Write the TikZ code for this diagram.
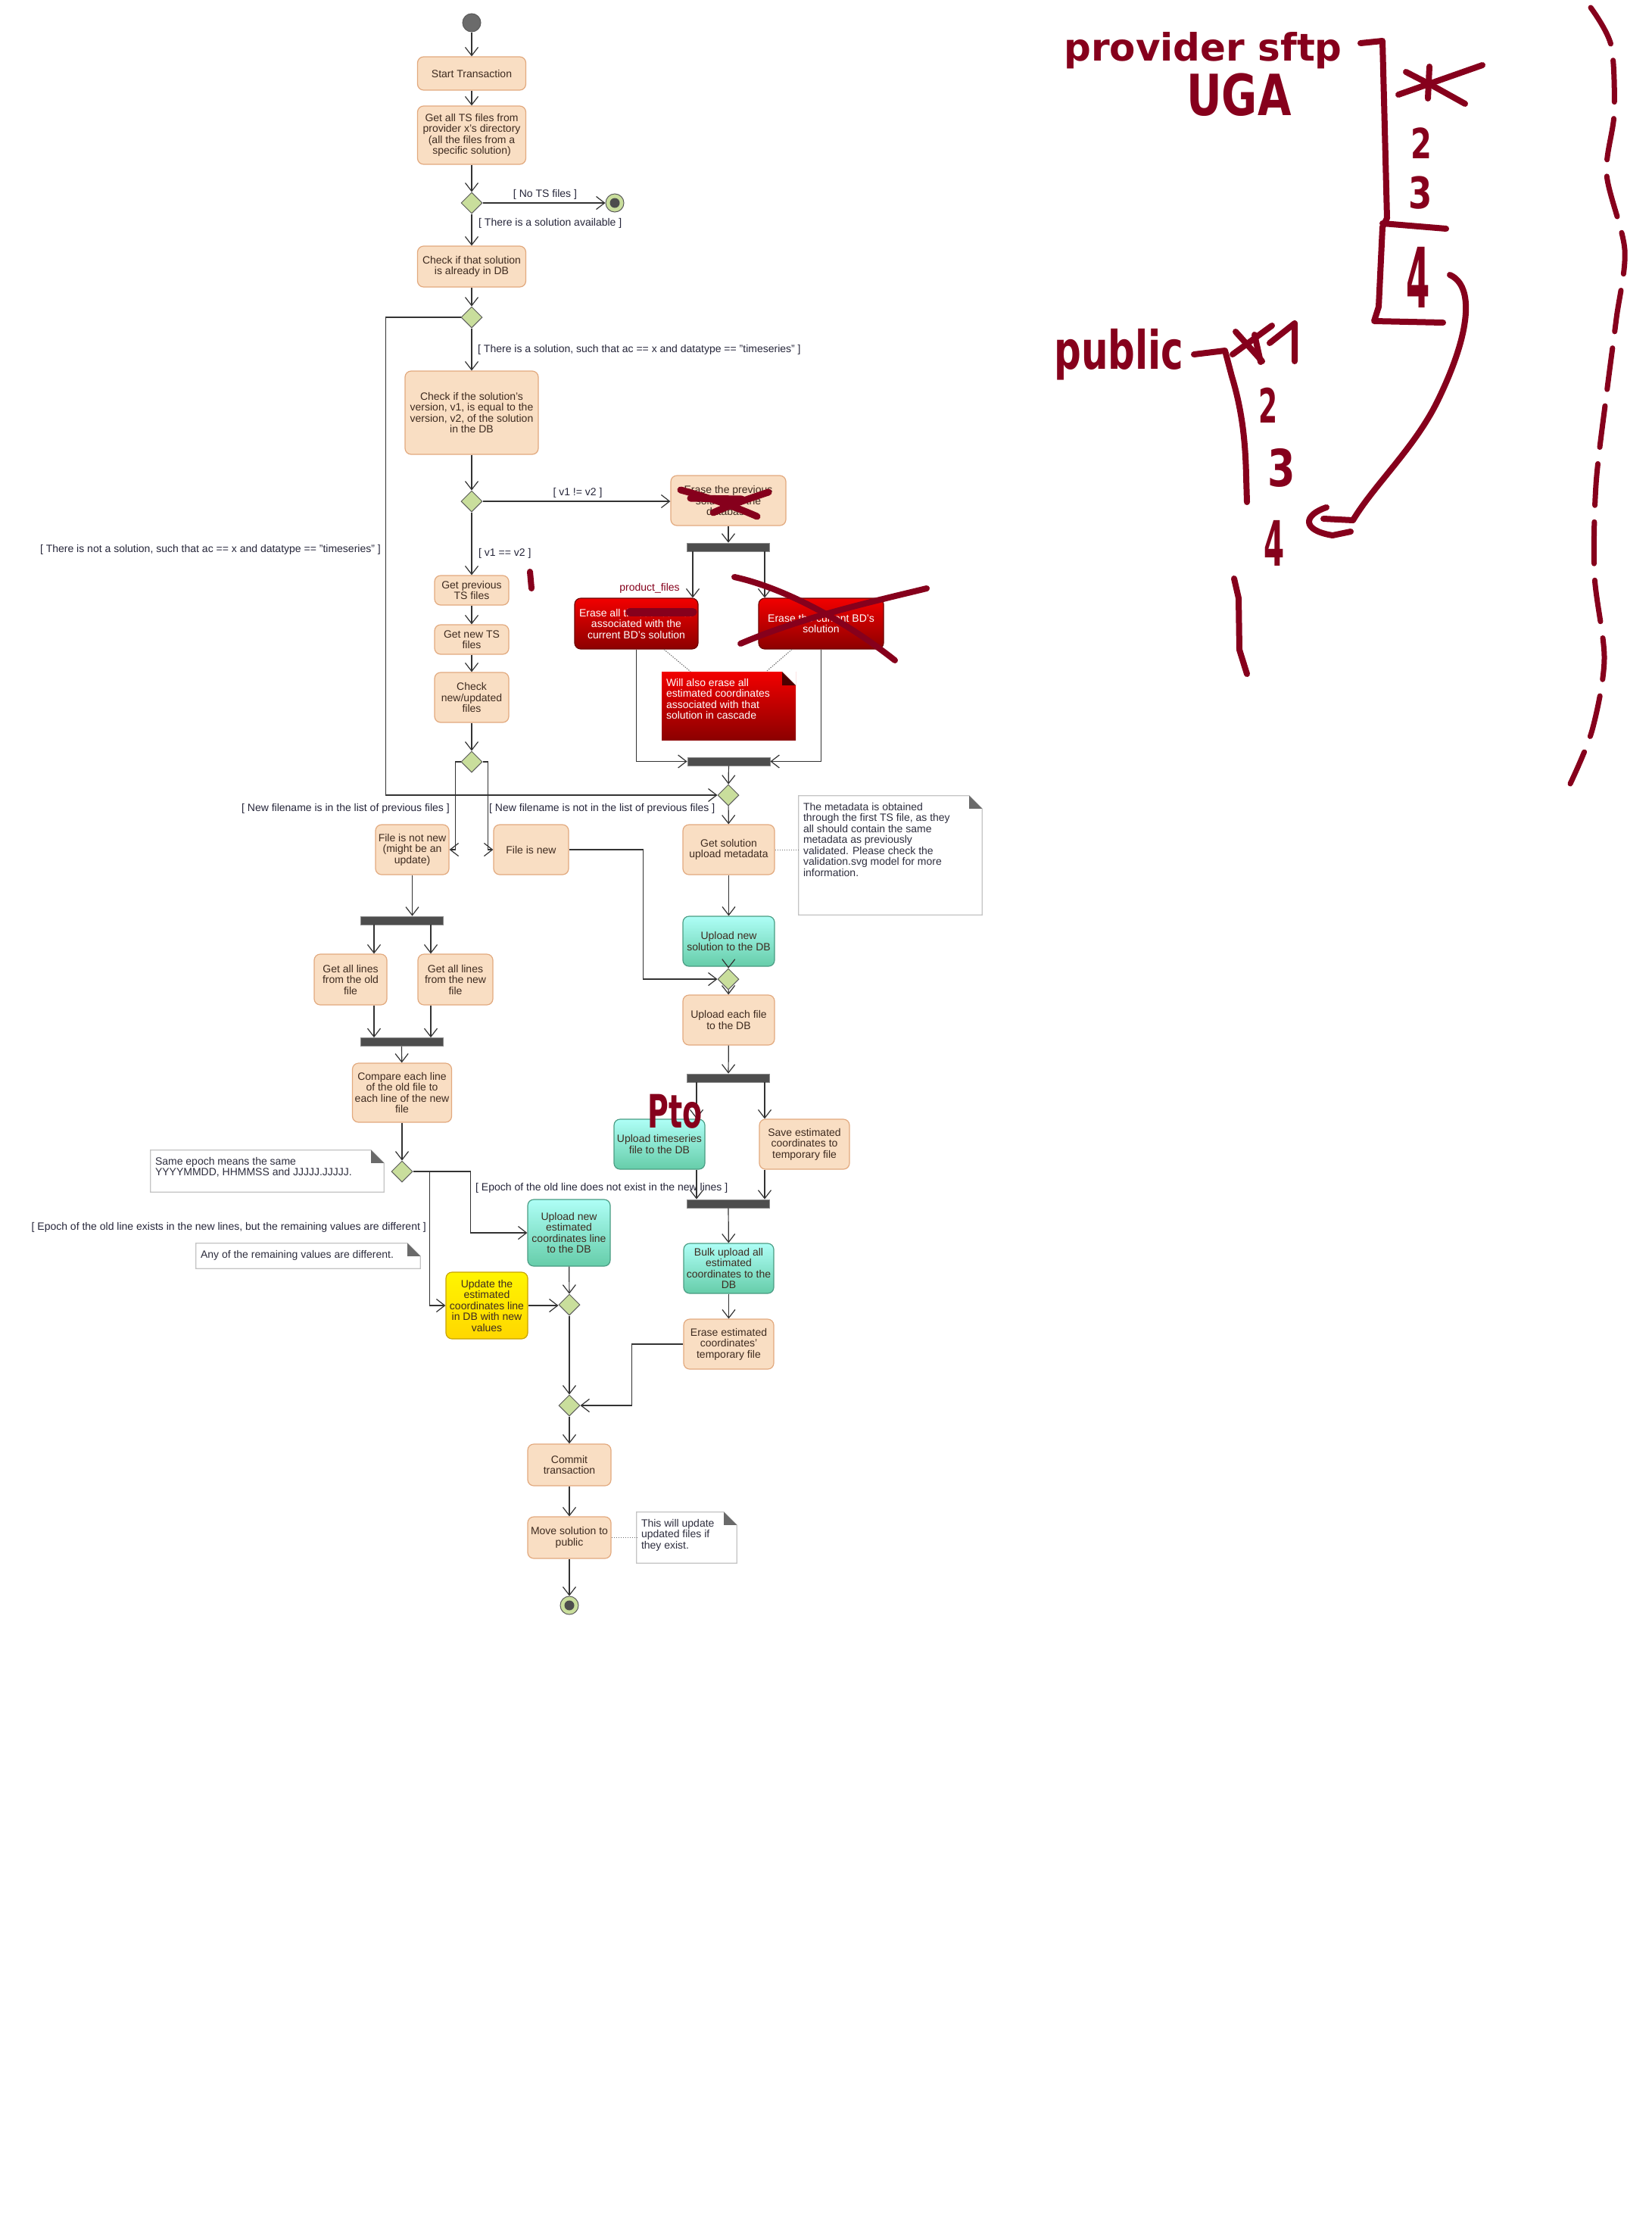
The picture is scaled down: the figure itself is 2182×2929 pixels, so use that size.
\documentclass[tikz,border=0pt]{standalone}
\usepackage{fontspec}
\setmainfont{Liberation Sans}
\newfontfamily\handfont{DejaVu Sans}
\usepackage{graphicx}
\usepackage{tikz}
\usetikzlibrary{positioning,shapes.geometric,arrows.meta,calc}

\definecolor{actfill}{HTML}{F9DEC3}
\definecolor{actdraw}{HTML}{E2A97E}
\definecolor{acttext}{HTML}{3E2B20}
\definecolor{tealtop}{HTML}{AEFEF6}
\definecolor{tealbot}{HTML}{66CDA9}
\definecolor{tealdraw}{HTML}{4A9D84}
\definecolor{yeltop}{HTML}{FFF500}
\definecolor{yelbot}{HTML}{FFD700}
\definecolor{yeldraw}{HTML}{C9A400}
\definecolor{redtop}{HTML}{F20000}
\definecolor{redbot}{HTML}{8C0000}
\definecolor{reddraw}{HTML}{6E0000}
\definecolor{redfold}{HTML}{4A0000}
\definecolor{decfill}{HTML}{C9DE9C}
\definecolor{decdraw}{HTML}{5C5C5C}
\definecolor{barfill}{HTML}{4D4D4D}
\definecolor{bardraw}{HTML}{8A8A8A}
\definecolor{startfill}{HTML}{6B6B6B}
\definecolor{linecol}{HTML}{333333}
\definecolor{linkcol}{HTML}{6E6E6E}
\definecolor{guardcol}{HTML}{26263A}
\definecolor{notedraw}{HTML}{C4C4C4}
\definecolor{notefold}{HTML}{6A6A6A}
\definecolor{notetext}{HTML}{2E2E3E}
\definecolor{ink}{HTML}{86001C}

\newcommand{\notetxt}[3]{\parbox[c][#2][t]{#1}{\raggedright\rule{0pt}{19pt}#3}}

\tikzset{
  act/.style={rectangle, rounded corners=8pt, draw=actdraw, fill=actfill, line width=1.2pt,
    align=center, text=acttext, inner sep=0.5pt, font=\fontsize{14}{14.5}\selectfont},
  tealact/.style={act, draw=tealdraw, top color=tealtop, bottom color=tealbot},
  yelact/.style={act, draw=yeldraw, top color=yeltop, bottom color=yelbot},
  redact/.style={act, draw=reddraw, top color=redtop, bottom color=redbot, text=white},
  decision/.style={diamond, draw=decdraw, fill=decfill, line width=1pt,
    minimum width=28pt, minimum height=28pt, inner sep=0pt},
  bar/.style={rectangle, draw=bardraw, fill=barfill, line width=0.8pt,
    minimum width=109pt, minimum height=11pt, inner sep=0pt},
  startdot/.style={circle, draw=decdraw, fill=startfill, line width=1pt, minimum size=24pt, inner sep=0pt},
  enddot/.style={circle, draw=decdraw, fill=decfill, line width=1pt, minimum size=24pt, inner sep=0pt,
    path picture={\fill[barfill] (path picture bounding box.center) circle (6.5pt);}},
  guard/.style={text=guardcol, inner sep=0pt, font=\fontsize{14}{14.5}\selectfont},
  note/.style={rectangle, inner xsep=6pt, inner ysep=0pt, text=notetext, font=\fontsize{14}{14.5}\selectfont},
  rednote/.style={note, text=white, fill=redbot, path picture={
      \shade[top color=redtop, bottom color=redbot] (path picture bounding box.south west) rectangle (path picture bounding box.north east);
      \fill[white] ([xshift=-18pt]path picture bounding box.north east) -- (path picture bounding box.north east)
        -- ([yshift=-18pt]path picture bounding box.north east) -- cycle;
      \fill[redfold] ([xshift=-18pt]path picture bounding box.north east) -- ([yshift=-18pt]path picture bounding box.north east)
        -- ([xshift=-18pt,yshift=-18pt]path picture bounding box.north east) -- cycle;}},
  flow/.style={draw=linecol, line width=1.2pt, -{Straight Barb[length=11pt, width=17pt]}},
  link/.style={draw=linkcol, line width=1pt, dash pattern=on 1.5pt off 1.5pt},
  hand/.style={draw=ink, line width=8pt, line cap=round, line join=round},
  handtxt/.style={text=ink, inner sep=0pt, font=\handfont\bfseries\fontsize{50}{50}\selectfont}
}

\begin{document}
\begin{tikzpicture}[x=1pt, y=-1pt]
  \fill[white] (0,0) rectangle (2182,2929);
  \useasboundingbox (0,0) rectangle (2182,2929);

  % Main column
  \node[startdot] (start) at (623,30) {};
  \node[act, minimum width=143pt, minimum height=44pt] (begin) at (623,97) {Start Transaction};
  \node[act, minimum width=143pt, minimum height=77pt] (getts) at (623,178.5) {Get all TS files from\\provider x's directory\\(all the files from a\\specific solution)};
  \node[decision] (d1) at (623,268) {};
  \node[enddot] (stop1) at (812,268) {};
  \node[act, minimum width=143pt, minimum height=54pt] (indb) at (623,352) {Check if that solution\\is already in DB};
  \node[decision] (d2) at (623,419) {};
  \node[act, minimum width=176pt, minimum height=110pt] (version) at (623,545) {Check if the solution's\\version, v1, is equal to the\\version, v2, of the solution\\in the DB};
  \node[decision] (d3) at (623,662) {};
  \node[act, minimum width=98pt, minimum height=39pt] (prevts) at (623,779.5) {Get previous\\TS files};
  \node[act, minimum width=98pt, minimum height=39pt] (newts) at (623,844.5) {Get new TS\\files};
  \node[act, minimum width=98pt, minimum height=66pt] (checknew) at (623,921) {Check\\new/updated\\files};
  \node[decision] (d4) at (623,1006) {};

  % Erase branch
  \node[act, minimum width=152pt, minimum height=66pt] (eraseprev) at (962,661) {Erase the previous\\solution in the\\database};
  \node[bar] (fork1) at (962,722.5) {};
  \node[redact, minimum width=163pt, minimum height=67pt] (erasets) at (840.5,823.5) {Erase all timeseries files\\associated with the\\current BD's solution};
  \node[redact, minimum width=165pt, minimum height=67pt] (erasesol) at (1084.5,823.5) {Erase the current BD's\\solution};
  \node[text=ink, inner sep=0pt, font=\fontsize{14}{14.5}\selectfont] (prodfiles) at (858,777) {product\_files};
  \node[rednote] (cascade) at (962.5,932) {\notetxt{165pt}{90pt}{Will also erase all\\estimated coordinates\\associated with that\\solution in cascade}};
  \node[bar] (join2) at (962.5,1005.5) {};
  \node[decision] (d5) at (962,1050) {};

  % Old file / new file
  \node[act, minimum width=97pt, minimum height=66pt] (oldfile) at (544.5,1122) {File is not new\\(might be an\\update)};
  \node[act, minimum width=99pt, minimum height=66pt] (newfile) at (701.5,1122) {File is new};
  \node[bar] (fork3) at (530.5,1215.5) {};
  \node[act, minimum width=96pt, minimum height=67pt] (oldlines) at (463,1293.5) {Get all lines\\from the old\\file};
  \node[act, minimum width=99pt, minimum height=67pt] (newlines) at (601.5,1293.5) {Get all lines\\from the new\\file};
  \node[bar] (join4) at (530.5,1376) {};
  \node[act, minimum width=131pt, minimum height=78pt] (compare) at (531,1443) {Compare each line\\of the old file to\\each line of the new\\file};
  \node[decision] (d7) at (531,1547) {};
  \node[note] (epoch) at (353,1546.5) {\notetxt{296pt}{55pt}{Same epoch means the same\\YYYYMMDD, HHMMSS and JJJJJ.JJJJJ.}};
  \node[note] (remain) at (407,1658.5) {\notetxt{284pt}{33pt}{Any of the remaining values are different.}};
  \node[tealact, minimum width=109pt, minimum height=88pt] (upest) at (751.5,1628) {Upload new\\estimated\\coordinates line\\to the DB};
  \node[yelact, minimum width=108pt, minimum height=88pt] (updest) at (643,1724) {Update the\\estimated\\coordinates line\\in DB with new\\values};
  \node[decision] (d8) at (752,1723) {};

  % Upload column
  \node[act, minimum width=121pt, minimum height=66pt] (meta) at (962.5,1122) {Get solution\\upload metadata};
  \node[note] (metanote) at (1176,1129.5) {\notetxt{230pt}{157pt}{The metadata is obtained\\through the first TS file, as they\\all should contain the same\\metadata as previously\\validated. Please check the\\validation.svg model for more\\information.}};
  \node[tealact, minimum width=121pt, minimum height=66pt] (upsol) at (962.5,1243) {Upload new\\solution to the DB};
  \node[decision] (d6) at (962,1293) {};
  \node[act, minimum width=121pt, minimum height=66pt] (upeach) at (962.5,1347) {Upload each file\\to the DB};
  \node[bar] (fork5) at (962,1423.5) {};
  \node[tealact, minimum width=120pt, minimum height=66pt] (upts) at (871,1511) {Upload timeseries\\file to the DB};
  \node[act, minimum width=119pt, minimum height=66pt] (saveest) at (1062.5,1511) {Save estimated\\coordinates to\\temporary file};
  \node[bar] (join6) at (962,1589.5) {};
  \node[tealact, minimum width=119pt, minimum height=66pt] (bulk) at (962.5,1675) {Bulk upload all\\estimated\\coordinates to the\\DB};
  \node[act, minimum width=119pt, minimum height=66pt] (eraseest) at (962.5,1775) {Erase estimated\\coordinates'\\temporary file};

  % End
  \node[decision] (d9) at (752,1856) {};
  \node[act, minimum width=110pt, minimum height=55pt] (commit) at (752,1934.5) {Commit\\transaction};
  \node[act, minimum width=110pt, minimum height=55pt] (move) at (752,2030.5) {Move solution to\\public};
  \node[note] (movenote) at (907,2030.5) {\notetxt{120pt}{67pt}{This will update\\updated files if\\they exist.}};
  \node[enddot] (stop2) at (752,2120) {};

  % Note frames
  \foreach \n in {epoch, remain, metanote, movenote} {
    \draw[notedraw, line width=1.2pt] (\n.north west) -- ([xshift=-17pt]\n.north east)
      -- ([yshift=-17pt]\n.north east) -- (\n.south east) -- (\n.south west) -- cycle;
    \fill[notefold] ([xshift=-17pt]\n.north east) -- ([yshift=-17pt]\n.north east)
      -- ([xshift=-17pt,yshift=-17pt]\n.north east) -- cycle;
  }

  % Guards
  \node[guard] (gno) at (720,257) {[ No TS files ]};
  \node[guard, anchor=west] (gsol) at (632,295) {[ There is a solution available ]};
  \node[guard, anchor=west] (gts) at (631,462) {[ There is a solution, such that ac == x and datatype == "timeseries" ]};
  \node[guard] (gneq) at (763,651) {[ v1 != v2 ]};
  \node[guard, anchor=east] (gnot) at (503,726) {[ There is not a solution, such that ac == x and datatype == "timeseries" ]};
  \node[guard, anchor=west] (geq) at (632,731) {[ v1 == v2 ]};
  \node[guard, anchor=east] (gin) at (594,1068) {[ New filename is in the list of previous files ]};
  \node[guard, anchor=west] (gout) at (646,1068) {[ New filename is not in the list of previous files ]};
  \node[guard, anchor=west] (gnoep) at (628,1569) {[ Epoch of the old line does not exist in the new lines ]};
  \node[guard, anchor=east] (gdiff) at (563,1621) {[ Epoch of the old line exists in the new lines, but the remaining values are different ]};

  % Flow, main column
  \draw[flow] (start) -- (begin);
  \draw[flow] (begin) -- (getts);
  \draw[flow] (getts) -- (d1);
  \draw[flow] (d1) -- (stop1);
  \draw[flow] (d1) -- (indb);
  \draw[flow] (indb) -- (d2);
  \draw[flow] (d2) -- (version);
  \draw[flow] (d2.west) -- ++(-99,0) |- (d5.west);
  \draw[flow] (version) -- (d3);
  \draw[flow] (d3.east) -- (d3.east -| eraseprev.west);
  \draw[flow] (d3) -- (prevts);
  \draw[flow] (prevts) -- (newts);
  \draw[flow] (newts) -- (checknew);
  \draw[flow] (checknew) -- (d4);

  % Flow, erase branch
  \draw[flow] (eraseprev) -- (fork1);
  \draw[flow] ([xshift=-47pt]fork1.south) -- ([xshift=-47pt]fork1.south |- erasets.north);
  \draw[flow] ([xshift=48pt]fork1.south) -- ([xshift=48pt]fork1.south |- erasesol.north);
  \draw[flow] (erasets.south) |- (join2.west);
  \draw[flow] (erasesol.south) |- (join2.east);
  \draw[flow] (join2) -- (d5);
  \draw[link] ([xshift=36.5pt]erasets.south) -- ([xshift=-50.5pt]cascade.north);
  \draw[link] ([xshift=-38.5pt]erasesol.south) -- ([xshift=49.5pt]cascade.north);

  % Flow, file branches
  \draw[flow] (d4.west) -- ++(-7,0) |- (oldfile.east);
  \draw[flow] (d4.east) -- ++(7,0) |- (newfile.west);
  \draw[flow] (newfile.east) -- ++(98,0) |- (d6.west);
  \draw[flow] (oldfile.south) -- (oldfile.south |- fork3.north);
  \draw[flow] ([xshift=-36.5pt]fork3.south) -- ([xshift=-36.5pt]fork3.south |- oldlines.north);
  \draw[flow] ([xshift=38.5pt]fork3.south) -- ([xshift=38.5pt]fork3.south |- newlines.north);
  \draw[flow] ([xshift=-36.5pt]fork3.south |- oldlines.south) -- ([xshift=-36.5pt]join4.north);
  \draw[flow] ([xshift=38.5pt]fork3.south |- newlines.south) -- ([xshift=38.5pt]join4.north);
  \draw[flow] (join4) -- (compare);
  \draw[flow] (compare) -- (d7);
  \draw[flow] (d7.east) -- ++(76,0) |- (upest.west);
  \draw[flow] (d7.east) -- ++(22,0) |- (updest.west);
  \draw[flow] (upest) -- (d8);
  \draw[flow] (updest.east) -- (updest.east -| d8.west);
  \draw[flow] (d8) -- (d9);

  % Flow, upload column
  \draw[flow] (d5) -- (meta);
  \draw[link] (meta.east) -- (meta.east -| metanote.west);
  \draw[flow] (meta) -- (upsol);
  \draw[flow] (upsol) -- (d6);
  \draw[flow] (d6) -- (upeach);
  \draw[flow] (upeach) -- (fork5);
  \draw[flow] ([xshift=-42pt]fork5.south) -- ([xshift=-42pt]fork5.south |- upts.north);
  \draw[flow] ([xshift=48pt]fork5.south) -- ([xshift=48pt]fork5.south |- saveest.north);
  \draw[flow] ([xshift=-42pt]fork5.south |- upts.south) -- ([xshift=-42pt]join6.north);
  \draw[flow] ([xshift=48pt]fork5.south |- saveest.south) -- ([xshift=48pt]join6.north);
  \draw[flow] (join6) -- (bulk);
  \draw[flow] (bulk) -- (eraseest);
  \draw[flow] (eraseest.west) -- ++(-68,0) |- (d9.east);

  % Flow, end
  \draw[flow] (d9) -- (commit);
  \draw[flow] (commit) -- (move);
  \draw[flow] (move) -- (stop2);
  \draw[link] (move.east) -- (move.east -| movenote.west);

  % Ink marks on the diagram
  \draw[hand] (700,755) -- (702,777);
  \draw[hand, line width=9pt] (899,647) .. controls (940,658) and (975,671) .. (1000,682);
  \draw[hand, line width=9pt] (1015,650) .. controls (990,658) and (962,668) .. (942,677);
  \draw[hand, line width=9pt] (912,658) -- (980,659);
  \draw[hand, line width=11pt] (832,808) -- (915,808);
  \draw[hand] (970,762) .. controls (1030,775) and (1110,815) .. (1182,872);
  \draw[hand] (978,850) .. controls (1060,815) and (1150,795) .. (1224,777);
  \node[handtxt, font=\handfont\bfseries\fontsize{38}{38}\selectfont] (hwpto) at (892,1468) {\scalebox{1}[1.6]{Pto}};

  % Ink notes, provider
  \node[handtxt, anchor=base west] (hwprov) at (1405,80) {provider sftp};
  \node[handtxt, anchor=base west] (hwuga) at (1567,152) {\scalebox{1.15}[1.5]{UGA}};
  \draw[hand] (1797,57) -- (1826,54) -- (1829,170) -- (1832,288) -- (1826,300) -- (1821,405) -- (1815,424) -- (1906,426);
  \draw[hand] (1826,295) -- (1910,302);
  \draw[hand] (1888,88) -- (1886,130);
  \draw[hand] (1847,125) -- (1958,86);
  \draw[hand] (1857,95) -- (1890,112) -- (1935,137);
  \node[handtxt] (hwa2) at (1877,189) {\scalebox{0.8}[1.1]{2}};
  \node[handtxt] (hwa3) at (1876,255) {\scalebox{0.9}[1.15]{3}};
  \node[handtxt] (hwa4) at (1873,366) {\scalebox{0.9}[2.2]{4}};
  \draw[hand] (1915,363) .. controls (1948,378) and (1942,440) .. (1900,527)
    .. controls (1870,590) and (1815,640) .. (1787,687) -- (1748,685);
  \draw[hand] (1752,670) .. controls (1722,680) and (1718,700) .. (1760,707) -- (1784,702);

  % Ink notes, public
  \node[handtxt, anchor=base west] (hwpub) at (1392,487) {\scalebox{1}[1.4]{public}};
  \draw[hand] (1577,468) -- (1618,463) -- (1627,497) .. controls (1640,540) and (1645,580) .. (1646,630) -- (1647,663);
  \draw[hand] (1632,438) -- (1667,477);
  \draw[hand] (1628,468) -- (1680,430);
  \draw[hand] (1657,442) -- (1665,478);
  \draw[hand] (1677,453) -- (1710,427) -- (1710,477);
  \node[handtxt] (hwb2) at (1675,535) {\scalebox{0.72}[1.25]{2}};
  \node[handtxt] (hwb3) at (1693,618) {\scalebox{1.05}[1.35]{3}};
  \node[handtxt] (hwb4) at (1683,717) {\scalebox{0.78}[1.65]{4}};
  \draw[hand] (1630,764) -- (1636,790) -- (1637,858) -- (1647,890);

  % Dashed brace on the right
  \draw[hand, line width=7pt, dash pattern=on 55pt off 22pt] plot[smooth] coordinates {(2101,10) (2128,60) (2132,150) (2122,230) (2146,330) (2135,420) (2122,520) (2108,640) (2106,760) (2119,870) (2103,964) (2074,1035)};
\end{tikzpicture}
\end{document}
